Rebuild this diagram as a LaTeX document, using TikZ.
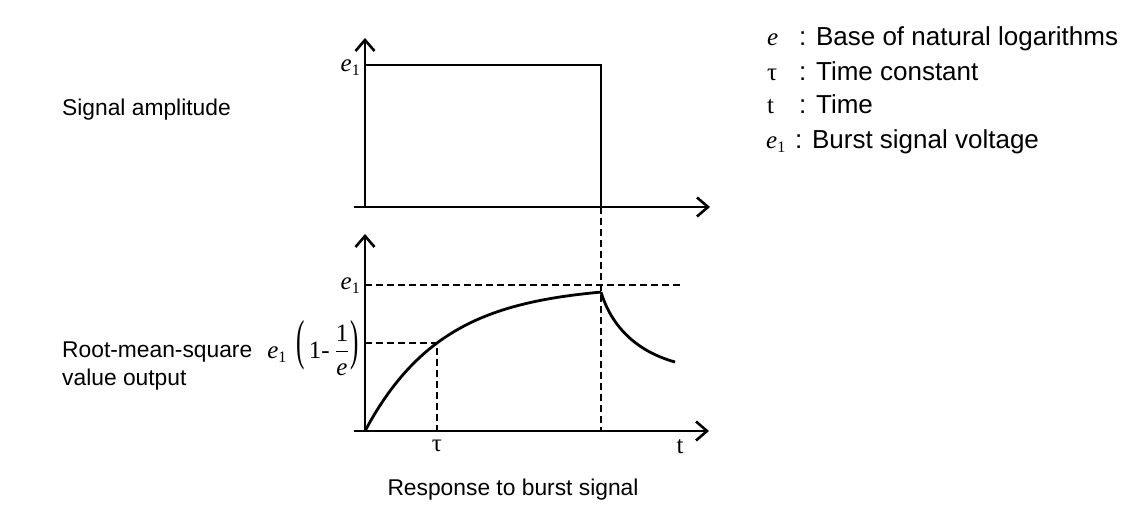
\documentclass[tikz,border=0pt]{standalone}
\usepackage{fontspec}
\usepackage{amsmath}
\usepackage{graphicx}
\setmainfont{Liberation Sans}
\newfontfamily\tms{Liberation Serif}
\usetikzlibrary{arrows.meta}
\newcommand{\eone}{{\tms\itshape e\/}{\tms\fontsize{16}{16}\selectfont\raisebox{-4pt}{1}}}
\tikzset{
  axisline/.style={line width=2.8pt,-{Straight Barb[length=11pt,width=19pt,line width=2.6pt]}},
  sigline/.style={line width=2.8pt,line join=miter},
  guide/.style={line width=2.3pt,dash pattern=on 6.5pt off 4.5pt},
  lbl/.style={font=\fontsize{22.8}{28}\selectfont,inner sep=0pt},
  leg/.style={font=\fontsize{26}{30}\selectfont,inner sep=0pt},
  mlbl/.style={font=\fontsize{25}{30}\selectfont\tms,inner sep=0pt},
}
\begin{document}
\begin{tikzpicture}[x=1pt,y=-1pt]
\useasboundingbox[fill=white] (0,0) rectangle (1135,508);
% ---- top graph
\coordinate (A0) at (354,207);
\coordinate (O1) at (365,207);
\coordinate (A1) at (365,38);
\coordinate (X1) at (710,207);
\coordinate (P1) at (365,65);
\coordinate (P2) at (601,65);
\coordinate (P3) at (601,207);
\draw[sigline] (P1) -- (P2) -- (P3);
\draw[axisline] (O1) -- (A1);
\draw[axisline] (A0) -- (X1);
\node[mlbl,anchor=east] (e1top) at (360,68) {\eone};
% ---- bottom graph
\coordinate (B0) at (354,431);
\coordinate (O2) at (365,431);
\coordinate (A2) at (365,234);
\coordinate (X2) at (709,431);
\coordinate (L1) at (365,285);
\coordinate (L1e) at (682,285);
\coordinate (L2) at (365,343);
\coordinate (T1) at (437,343);
\coordinate (T0) at (437,431);
\coordinate (Pk) at (601,292);
\coordinate (Pk0) at (601,431);
\coordinate (Dn) at (675,362);
\draw[guide] (L1) -- (L1e);
\draw[guide] (L2) -- (T1) -- (T0);
\draw[guide] (P3) -- (Pk0);
\draw[sigline] plot[domain=0:236,samples=80,smooth] ({365+\x},{431-146*(1-exp(-\x/78))});
\draw[sigline] (Pk) .. controls (610,322) and (632,350) .. (Dn);
\draw[axisline] (O2) -- (A2);
\draw[axisline] (B0) -- (X2);
\node[mlbl,anchor=east] (e1bot) at (360,286) {\eone};
\node[mlbl,anchor=east] (e1frac) at (359,348) {\eone\hspace{10pt}\raisebox{-0.5pt}{\scalebox{1}[2.2]{(}}\hspace{4pt}1-\hspace{5pt}$\displaystyle\frac{\mbox{\tms 1}}{\mbox{\tms\itshape e}}$\hspace{1pt}\raisebox{-0.5pt}{\scalebox{1}[2.2]{)}}};
\node[mlbl,anchor=base] (tau) at (437,451) {τ};
\node[mlbl,anchor=base] (tt) at (680,453) {t};
% ---- left labels
\node[lbl,anchor=west] (sa) at (62,110) {Signal amplitude};
\node[lbl,anchor=west,align=left] (rms) at (62,366) {Root-mean-square\\value output};
\node[lbl] (cap) at (513,490) {Response to burst signal};
% ---- legend
\node[mlbl,anchor=base west] (s1) at (767,46) {\itshape e};
\node[leg,anchor=base west] (d1) at (799,46) {: Base of natural logarithms};
\node[mlbl,anchor=base west] (s2) at (767,81) {τ};
\node[leg,anchor=base west] (d2) at (799,81) {: Time constant};
\node[mlbl,anchor=base west] (s3) at (767,114) {t};
\node[leg,anchor=base west] (d3) at (799,114) {: Time};
\node[mlbl,anchor=base west] (s4) at (766,149) {\eone};
\node[leg,anchor=base west] (d4) at (795,149) {: Burst signal voltage};
\end{tikzpicture}
\end{document}
